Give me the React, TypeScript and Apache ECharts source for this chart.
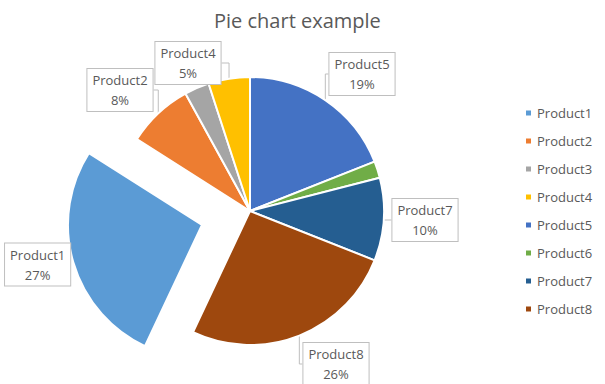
import React, { useEffect, useRef } from "react";
import * as echarts from "echarts";

const categories = ["Product1", "Product2", "Product3", "Product4", "Product5", "Product6", "Product7", "Product8"];
const values = [27, 8, 3, 5, 19, 2, 10, 26];
const colors = ["#5B9BD5", "#ED7D31", "#A5A5A5", "#FFC000", "#4472C4", "#70AD47", "#255E91", "#9E480E"];
const showLabel = [true, true, false, true, true, false, true, true];
const labelCenters: (number[] | null)[] = [[37, 268], [120, 90], null, [188, 63], [362, 74], null, [425, 220], [336, 364]];

const FONT = "'Open Sans', 'Noto Sans', sans-serif";
const TEXT = "#595959";

export default function App() {
  const ref = useRef<HTMLDivElement>(null);
  useEffect(() => {
    if (!ref.current) return;
    const chart = echarts.init(ref.current, null, { renderer: "svg" });
    const total = values.reduce((a, b) => a + b, 0);
    chart.setOption({
      animation: false,
      backgroundColor: "#ffffff",
      title: {
        text: "Pie chart example",
        left: 209,
        top: 5,
        textStyle: { fontFamily: FONT, fontSize: 20, fontWeight: "normal", color: TEXT },
      },
      legend: {
        orient: "vertical",
        left: 519,
        top: 101,
        itemWidth: 7,
        itemHeight: 7,
        itemGap: 14,
        icon: "rect",
        selectedMode: false,
        textStyle: { fontFamily: FONT, fontSize: 13, color: TEXT, lineHeight: 14 },
        data: categories,
      },
      series: [
        {
          type: "pie",
          center: [250, 211],
          radius: 134,
          startAngle: 90 - 0.57 * 360,
          clockwise: true,
          selectedMode: "single",
          selectedOffset: 50,
          avoidLabelOverlap: false,
          emphasis: { disabled: true },
          itemStyle: { borderColor: "#ffffff", borderWidth: 2 },
          label: {
            show: true,
            position: "outside",
            bleedMargin: 0,
            formatter: (p: any) => `${p.name}\n${Math.round((p.value / total) * 100)}%`,
            fontFamily: FONT,
            fontSize: 13,
            lineHeight: 20,
            color: TEXT,
            align: "center",
            backgroundColor: "#ffffff",
            borderColor: "#bfbfbf",
            borderWidth: 1,
            padding: [1, 5, 1, 5],
          },
          labelLine: { show: true, length: 8, length2: 8, lineStyle: { color: "#bfbfbf", width: 1 } },
          labelLayout: (params: any) => {
            const c = labelCenters[params.dataIndex];
            if (!c) return {};
            return { x: c[0], y: c[1], align: "center", verticalAlign: "middle" };
          },
          data: categories.map((name, i) => ({
            name,
            value: values[i],
            selected: i === 0,
            itemStyle: { color: colors[i] },
            label: { show: showLabel[i] },
            labelLine:
              i === 0
                ? { show: true, length: 8, length2: 23, lineStyle: { opacity: 0 } }
                : { show: showLabel[i] },
          })),
        },
      ],
    });
    return () => chart.dispose();
  }, []);
  return <div ref={ref} style={{ position: "fixed", left: 0, top: 0, width: 605, height: 384 }} />;
}
